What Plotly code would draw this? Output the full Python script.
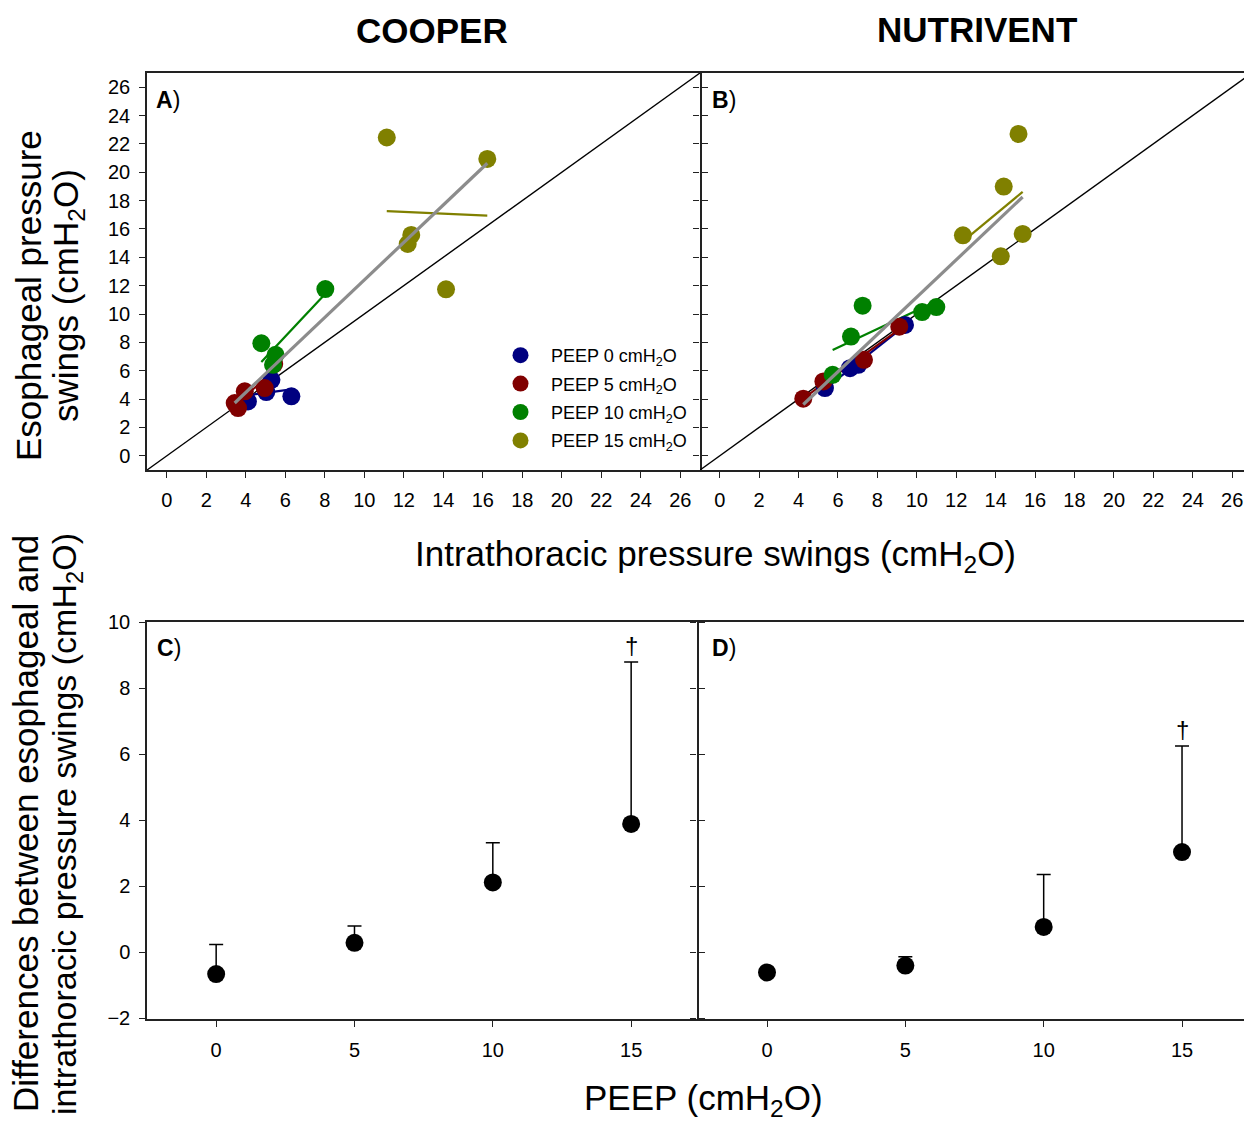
import numpy as np
import plotly.graph_objects as go

W, H = 1244, 1121
FONT = "Liberation Sans, Arial, sans-serif"

# ---------------- data ----------------
groups = ["PEEP 0", "PEEP 5", "PEEP 10", "PEEP 15"]
colors = ["#000080", "#800000", "#008000", "#808000"]

# Panel A (COOPER): intrathoracic (x) vs esophageal (y) pressure swings
a_x = {
    "PEEP 0": [6.31, 5.04, 4.11, 5.30],
    "PEEP 5": [3.44, 3.61, 3.95, 4.96, 5.44],
    "PEEP 10": [8.03, 4.79, 5.51, 5.38],
    "PEEP 15": [11.14, 16.23, 12.38, 12.20, 14.14],
}
a_y = {
    "PEEP 0": [4.20, 4.50, 3.84, 5.36],
    "PEEP 5": [3.72, 3.37, 4.55, 4.78, 6.47],
    "PEEP 10": [11.76, 7.94, 7.12, 6.42],
    "PEEP 15": [22.45, 20.94, 15.58, 14.94, 11.74],
}
# Panel B (NUTRIVENT)
b_x = {
    "PEEP 0": [5.34, 6.61, 7.03, 9.40],
    "PEEP 5": [4.24, 5.26, 7.32, 9.11],
    "PEEP 10": [7.25, 6.66, 5.73, 10.27, 10.99],
    "PEEP 15": [15.16, 14.41, 12.34, 15.37, 14.26],
}
b_y = {
    "PEEP 0": [4.78, 6.18, 6.42, 9.23],
    "PEEP 5": [4.03, 5.25, 6.77, 9.11],
    "PEEP 10": [10.59, 8.41, 5.71, 10.14, 10.49],
    "PEEP 15": [22.70, 18.99, 15.55, 15.65, 14.07],
}
identity = [-1, 27]

# Panels C/D: difference (esophageal - intrathoracic), mean and SD
peep = [0, 5, 10, 15]
c_mean = [-0.67, 0.28, 2.11, 3.88]
c_sd = [0.90, 0.51, 1.20, 4.91]
d_mean = [-0.62, -0.41, 0.76, 3.03]
d_sd = [0.0, 0.27, 1.59, 3.21]
c_sig = [False, False, False, True]
d_sig = [False, False, False, True]

x_ticks_ab = list(range(0, 27, 2))
y_ticks_ab = list(range(0, 27, 2))
x_ticks_cd = [0, 5, 10, 15]
y_ticks_cd = list(range(-2, 11, 2))

fig = go.Figure()


def add_scatter_panel(xd, yd, xa, ya, legend):
    fig.add_trace(go.Scatter(x=identity, y=identity, mode="lines",
                             line=dict(color="black", width=1.4),
                             xaxis=xa, yaxis=ya, showlegend=False, hoverinfo="skip"))
    for g, c in zip(groups, colors):
        x = np.array(xd[g]); y = np.array(yd[g])
        k, b = np.polyfit(x, y, 1)
        xs = np.array([x.min(), x.max()])
        fig.add_trace(go.Scatter(x=xs, y=k * xs + b, mode="lines",
                                 line=dict(color=c, width=2.2),
                                 xaxis=xa, yaxis=ya, showlegend=False, hoverinfo="skip"))
    for g, c in zip(groups, colors):
        fig.add_trace(go.Scatter(x=xd[g], y=yd[g], mode="markers",
                                 marker=dict(color=c, size=18, line=dict(width=0)),
                                 name=f"{g} cmH<sub>2</sub>O",
                                 legendgroup=g, showlegend=legend,
                                 xaxis=xa, yaxis=ya))
    allx = np.concatenate([xd[g] for g in groups])
    ally = np.concatenate([yd[g] for g in groups])
    k, b = np.polyfit(allx, ally, 1)
    xs = np.array([allx.min(), allx.max()])
    fig.add_trace(go.Scatter(x=xs, y=k * xs + b, mode="lines",
                             line=dict(color="#8c8c8c", width=3.2),
                             xaxis=xa, yaxis=ya, showlegend=False, hoverinfo="skip"))


add_scatter_panel(a_x, a_y, "x", "y", True)
add_scatter_panel(b_x, b_y, "x2", "y2", False)


def add_diff_panel(mean, sd, xa, ya):
    fig.add_trace(go.Scatter(x=peep, y=mean, mode="markers",
                             marker=dict(color="black", size=18),
                             error_y=dict(type="data", symmetric=False, array=sd,
                                          arrayminus=[0] * len(sd), color="black",
                                          thickness=1.5, width=7),
                             xaxis=xa, yaxis=ya, showlegend=False))


add_diff_panel(c_mean, c_sd, "x3", "y3")
add_diff_panel(d_mean, d_sd, "x4", "y4")


# ---------------- layout ----------------
def px_x(p):
    return p / W


def px_y(p):
    return 1 - p / H


axis_common = dict(showgrid=False, zeroline=False, showline=True, linecolor="#222",
                   linewidth=1.5, ticks="outside", ticklen=6, tickwidth=1.4,
                   tickcolor="#222", automargin=False,
                   tickfont=dict(family=FONT, size=20, color="black"))

dom_ab_y = [px_y(470), px_y(73)]
dom_cd_y = [px_y(1019), px_y(622)]

fig.update_layout(
    width=W, height=H, margin=dict(l=0, r=0, t=0, b=0, autoexpand=False),
    paper_bgcolor="white", plot_bgcolor="white",
    font=dict(family=FONT, color="black"),
    xaxis=dict(axis_common, domain=[px_x(147), px_x(700)], range=[-1, 27],
               tickvals=x_ticks_ab, anchor="y", mirror=True, ticklabelstandoff=5),
    yaxis=dict(axis_common, domain=dom_ab_y, range=[-1, 27], tickvals=y_ticks_ab,
               anchor="x", mirror="ticks", ticklabelstandoff=5),
    xaxis2=dict(axis_common, domain=[px_x(700), 1], range=[-1, 26.6],
                tickvals=x_ticks_ab, anchor="y2", mirror=True, ticklabelstandoff=5),
    yaxis2=dict(axis_common, domain=dom_ab_y, range=[-1, 27], tickvals=y_ticks_ab,
                anchor="x2", showline=False, showticklabels=False),
    xaxis3=dict(axis_common, domain=[px_x(147), px_x(697)], range=[-2.5, 17.38],
                tickvals=x_ticks_cd, anchor="y3", mirror=True, ticklabelstandoff=6),
    yaxis3=dict(axis_common, domain=dom_cd_y, range=[-2.03, 10], tickvals=y_ticks_cd,
                anchor="x3", mirror="ticks", ticklabelstandoff=5),
    xaxis4=dict(axis_common, domain=[px_x(697), 1], range=[-2.53, 17.24],
                tickvals=x_ticks_cd, anchor="y4", mirror=True, ticklabelstandoff=6),
    yaxis4=dict(axis_common, domain=dom_cd_y, range=[-2.03, 10], tickvals=y_ticks_cd,
                anchor="x4", showline=False, showticklabels=False),
    legend=dict(x=px_x(490), y=px_y(337), xanchor="left", yanchor="top",
                bgcolor="rgba(0,0,0,0)", font=dict(family=FONT, size=18, color="black"),
                tracegroupgap=2, itemsizing="trace", itemwidth=51),
)

ann = []


def add_ann(text, x, y, size, **kw):
    d = dict(text=text, x=x, y=y, xref="paper", yref="paper", showarrow=False,
             xanchor="center", yanchor="middle",
             font=dict(family=FONT, size=size, color="black"))
    d.update(kw)
    ann.append(d)


add_ann("<b>COOPER</b>", px_x(432), px_y(31), 35)
add_ann("<b>NUTRIVENT</b>", px_x(977), px_y(29), 35)
add_ann("<b>A</b>)", px_x(154), px_y(100), 23, xanchor="left")
add_ann("<b>B</b>)", px_x(710), px_y(100), 23, xanchor="left")
add_ann("<b>C</b>)", px_x(155), px_y(648), 23, xanchor="left")
add_ann("<b>D</b>)", px_x(710), px_y(648), 23, xanchor="left")
add_ann("Intrathoracic pressure swings (cmH<sub>2</sub>O)", px_x(715), px_y(556), 35)
add_ann("Esophageal pressure", px_x(28), px_y(296), 35, textangle=-90)
add_ann("swings (cmH<sub>2</sub>O)", px_x(68), px_y(296), 35, textangle=-90)
add_ann("Differences between esophageal and", px_x(25), px_y(824), 35, textangle=-90)
add_ann("intrathoracic pressure swings (cmH<sub>2</sub>O)", px_x(66), px_y(824), 34,
        textangle=-90)
add_ann("PEEP (cmH<sub>2</sub>O)", px_x(703), px_y(1100), 35)

for xa, ya, mean, sd, sig in [("x3", "y3", c_mean, c_sd, c_sig), ("x4", "y4", d_mean, d_sd, d_sig)]:
    for p, m, s, flag in zip(peep, mean, sd, sig):
        if flag:
            ann.append(dict(text="†", x=p, y=m + s, xref=xa, yref=ya, showarrow=False,
                            xanchor="center", yanchor="bottom", yshift=1,
                            font=dict(family=FONT, size=24, color="black")))

fig.update_layout(annotations=ann)
fig.write_html("out.html", config={"displayModeBar": False},
               post_script="document.body.style.margin='0px';")
